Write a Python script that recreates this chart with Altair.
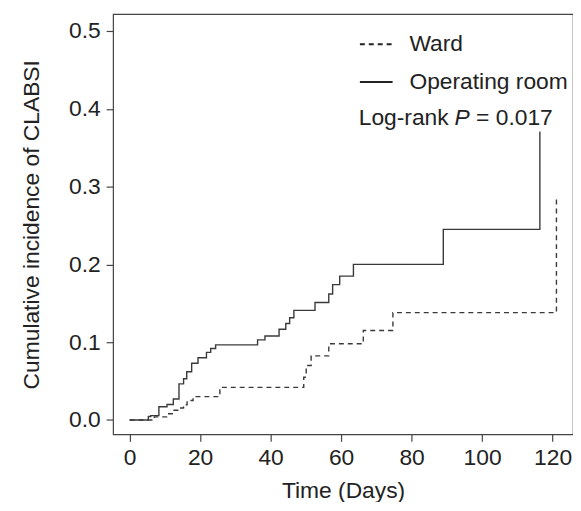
import altair as alt
import pandas as pd

# Operating room (solid) step curve
or_time = [0, 5.3, 6.0, 8.3, 10.6, 12.4, 14.0, 15.3, 16.2, 17.6, 19.4, 21.8, 23.0, 24.4,
           36.3, 38.4, 42.4, 44.3, 45.4, 46.6, 52.6, 56.5, 57.6, 59.6, 63.5, 89.0, 116.4]
or_cum = [0, 0.0045, 0.0057, 0.017, 0.020, 0.027, 0.0465, 0.053, 0.062, 0.073, 0.080, 0.087,
          0.092, 0.0966, 0.103, 0.108, 0.1166, 0.124, 0.1315, 0.141, 0.151, 0.162, 0.174,
          0.185, 0.200, 0.245, 0.371]

# Ward (dashed) step curve
ward_time = [0, 7.0, 10.5, 12.6, 14.0, 15.3, 16.3, 18.0, 25.6, 49.4, 50.1, 51.5, 56.5,
             66.3, 74.7, 121.1]
ward_cum = [0, 0.004, 0.008, 0.0125, 0.0155, 0.0197, 0.025, 0.030, 0.042, 0.055, 0.070,
            0.0825, 0.098, 0.115, 0.138, 0.284]

groups = ["Ward", "Operating room"]
x_ticks = [0, 20, 40, 60, 80, 100, 120]
y_ticks = [0.0, 0.1, 0.2, 0.3, 0.4, 0.5]

ann_text = ["Log-rank", "P", "= 0.017"]
ann_x = [65.0, 92.2, 98.3]
ann_y = [0.388, 0.388, 0.388]
ann_style = ["normal", "italic", "normal"]

rows = []
for i, (t, v) in enumerate(zip(ward_time, ward_cum)):
    rows.append({"time": t, "cum": v, "group": "Ward", "ord": i})
for i, (t, v) in enumerate(zip(or_time, or_cum)):
    rows.append({"time": t, "cum": v, "group": "Operating room", "ord": i})
df = pd.DataFrame(rows)

ann = pd.DataFrame({"text": ann_text, "x": ann_x, "y": ann_y, "style": ann_style})

FONT = "Liberation Sans"
INK = "#222222"
FS = 23

xscale = alt.Scale(domain=[-4.7, 125.8], nice=False, zero=False)
yscale = alt.Scale(domain=[-0.0185, 0.5217], nice=False, zero=False)

lines = alt.Chart(df).mark_line(interpolate="step-after", strokeWidth=1.4, color="#3a3a3a").encode(
    x=alt.X("time:Q", scale=xscale,
            axis=alt.Axis(values=x_ticks, title="Time (Days)", format="d", grid=False,
                          domain=False, tickSize=7, labelPadding=5, titlePadding=11)),
    y=alt.Y("cum:Q", scale=yscale,
            axis=alt.Axis(values=y_ticks, title="Cumulative incidence of CLABSI", format=".1f",
                          grid=False, domain=False, tickSize=7, labelPadding=6,
                          titlePadding=25)),
    strokeDash=alt.StrokeDash("group:N",
                              scale=alt.Scale(domain=groups, range=[[5, 4], [1, 0]]),
                              legend=alt.Legend(title=None, orient="none", legendX=248,
                                                legendY=13, symbolType="stroke",
                                                symbolSize=1089, symbolStrokeWidth=2,
                                                symbolStrokeColor="#222222",
                                                labelFontSize=FS, labelFont=FONT,
                                                labelColor=INK, labelOffset=16,
                                                rowPadding=8, padding=0)),
    order="ord:Q",
)

texts = []
for s in ["normal", "italic"]:
    texts.append(
        alt.Chart(ann[ann["style"] == s]).mark_text(
            align="left", baseline="middle", fontSize=FS, font=FONT, color=INK, fontStyle=s
        ).encode(x=alt.X("x:Q", scale=xscale), y=alt.Y("y:Q", scale=yscale), text="text:N")
    )

chart = alt.layer(lines, *texts).properties(
    width=464, height=424,
    autosize=alt.AutoSizeParams(type="none"),
    padding={"left": 106, "top": 4, "right": 0, "bottom": 66},
).configure_view(
    stroke="#444444", strokeWidth=1.2
).configure_axis(
    labelFont=FONT, titleFont=FONT, labelFontSize=FS, titleFontSize=FS,
    labelColor=INK, titleColor=INK, tickColor="#444444", tickWidth=1.2,
    titleFontWeight="normal"
)

chart.save("out.html", embed_options={"renderer": "svg", "actions": False})
